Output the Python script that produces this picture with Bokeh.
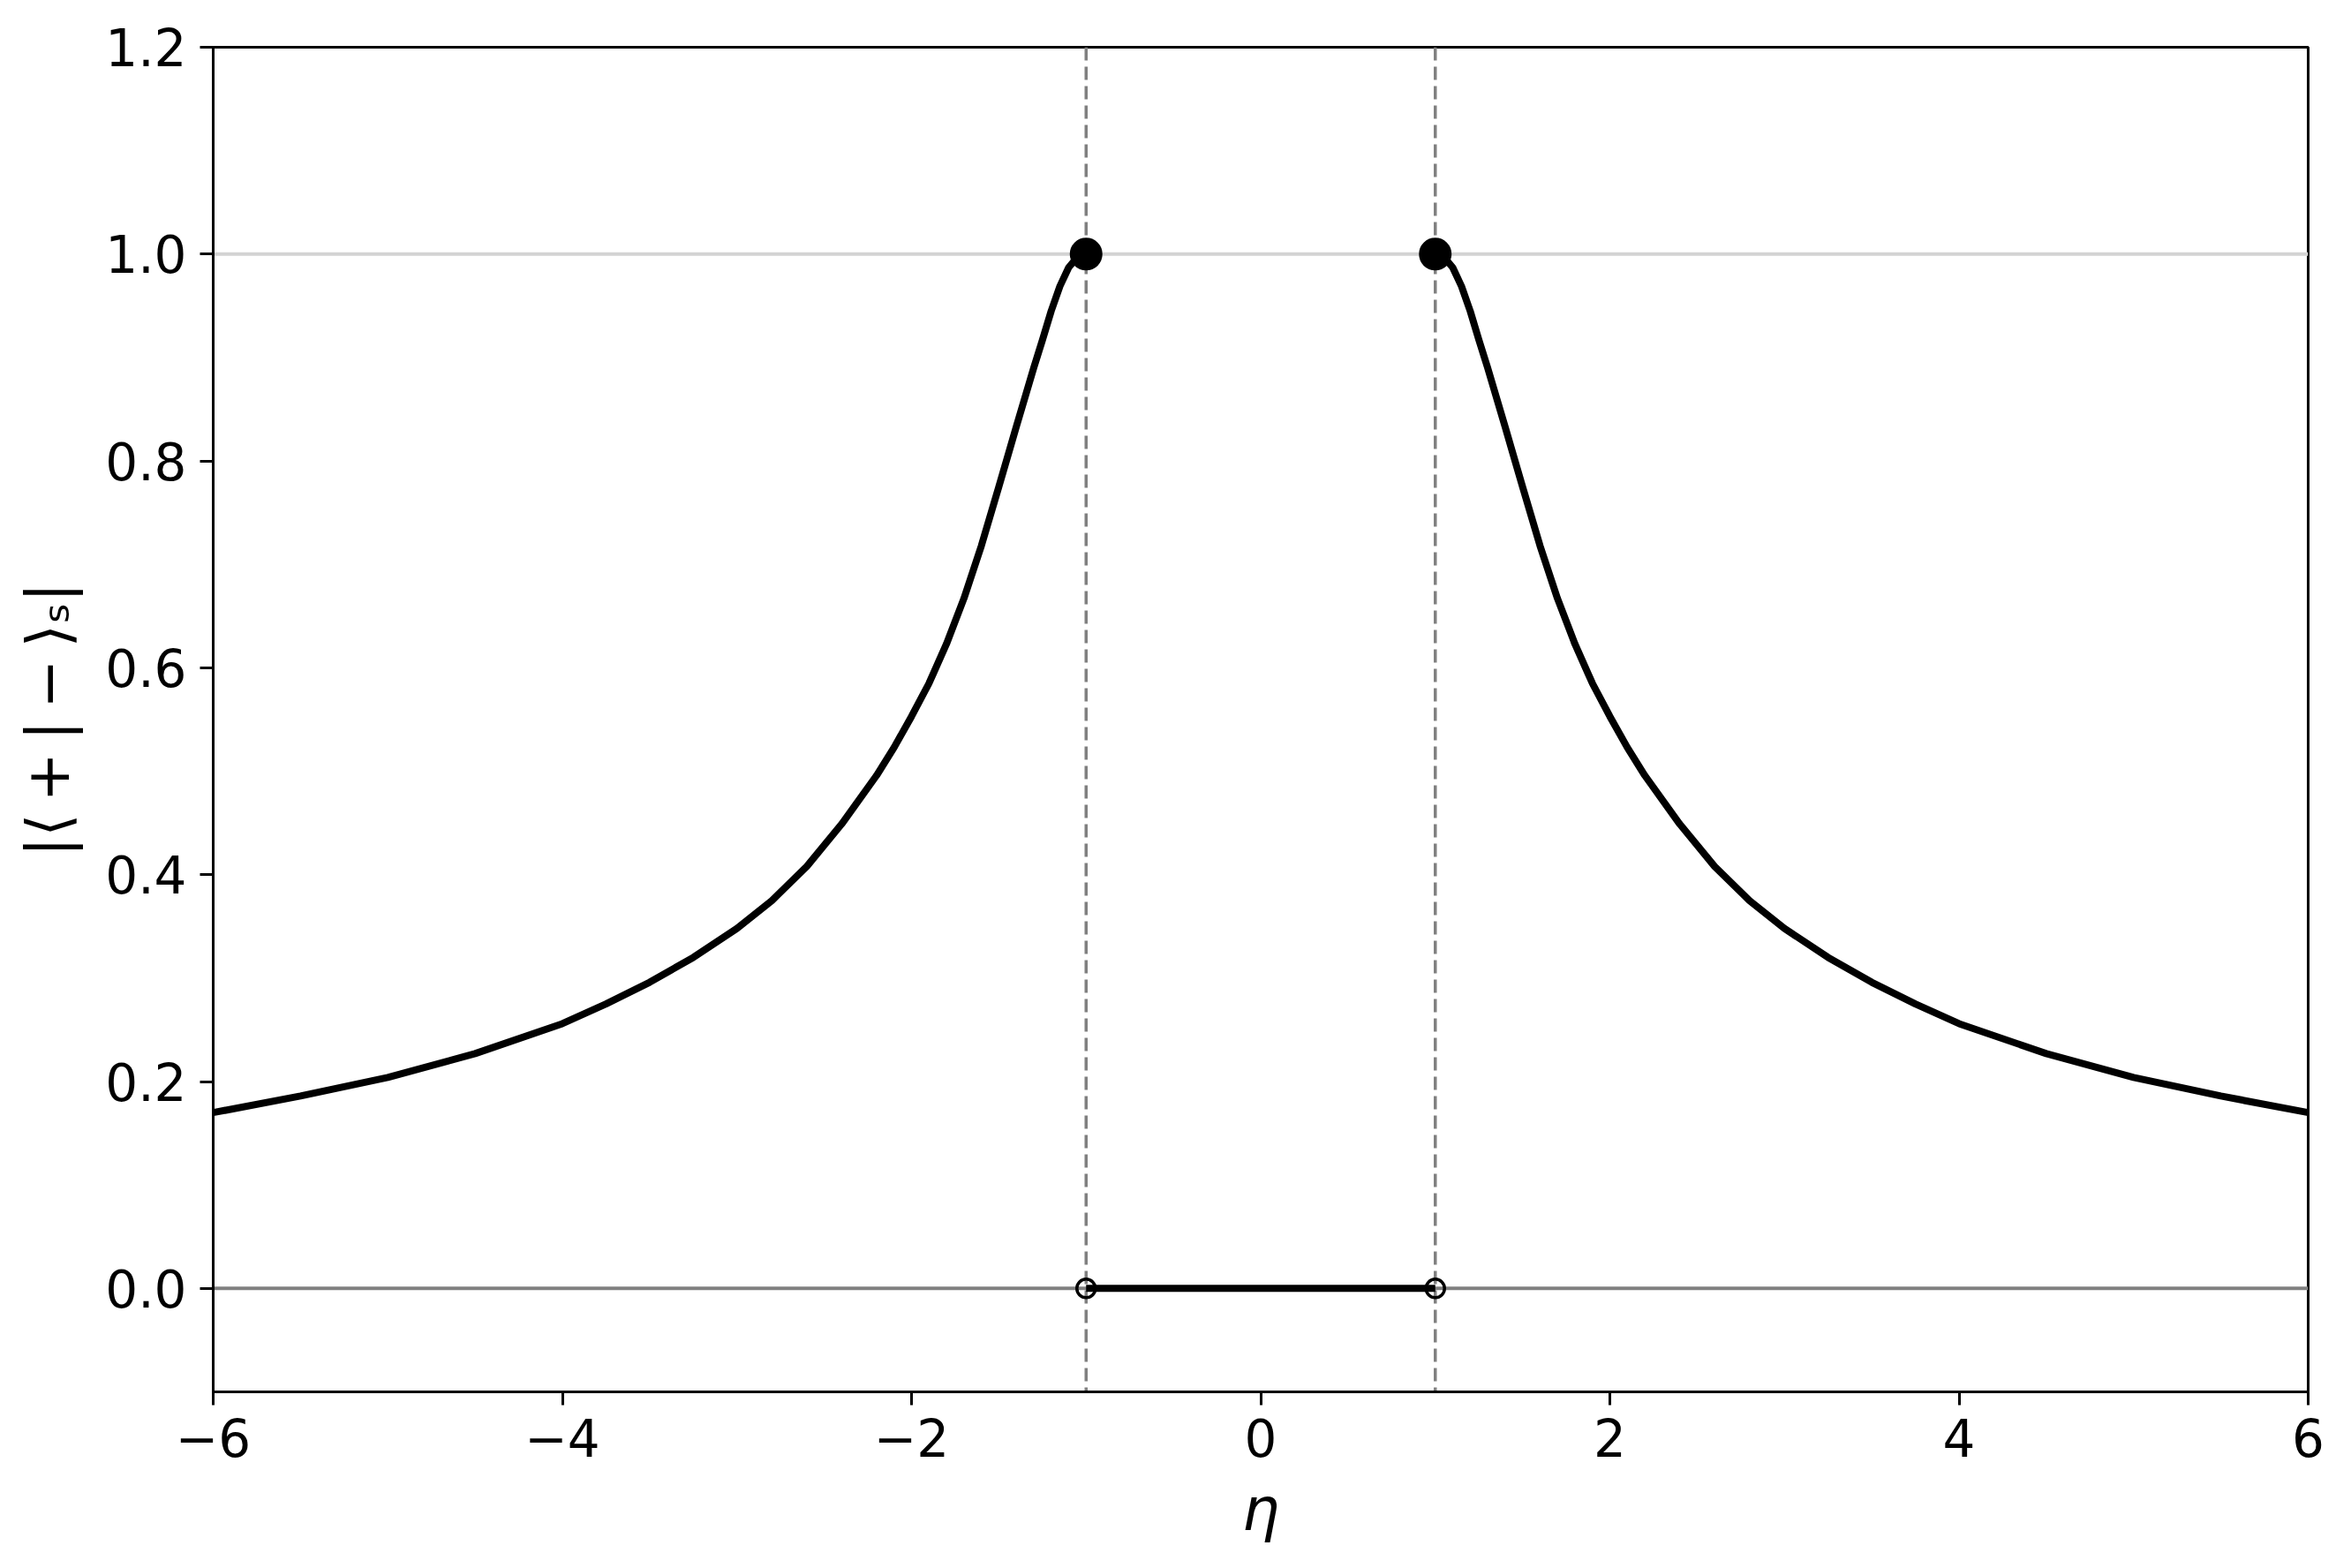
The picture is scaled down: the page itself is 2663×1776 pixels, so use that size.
from bokeh.plotting import figure
from bokeh.models import Range1d, FixedTicker, Span
from bokeh.embed import file_html
from bokeh.resources import INLINE

# ---- data ----
eta_right = [1.00, 1.03, 1.06, 1.10, 1.15, 1.20, 1.25, 1.30, 1.40, 1.50, 1.60, 1.70,
             1.80, 1.90, 2.00, 2.10, 2.20, 2.40, 2.60, 2.80, 3.00, 3.25, 3.50, 3.75,
             4.00, 4.50, 5.00, 5.50, 6.00]
val_right = [1.000, 0.999, 0.995, 0.987, 0.969, 0.945, 0.917, 0.890, 0.833, 0.775, 0.718, 0.667,
             0.623, 0.585, 0.553, 0.523, 0.496, 0.449, 0.408, 0.375, 0.348, 0.320, 0.296, 0.275,
             0.256, 0.227, 0.204, 0.186, 0.170]
eta_left = [-6.00, -5.50, -5.00, -4.50, -4.00, -3.75, -3.50, -3.25, -3.00, -2.80, -2.60, -2.40,
            -2.20, -2.10, -2.00, -1.90, -1.80, -1.70, -1.60, -1.50, -1.40, -1.30, -1.25, -1.20,
            -1.15, -1.10, -1.06, -1.03, -1.00]
val_left = [0.170, 0.186, 0.204, 0.227, 0.256, 0.275, 0.296, 0.320, 0.348, 0.375, 0.408, 0.449,
            0.496, 0.523, 0.553, 0.585, 0.623, 0.667, 0.718, 0.775, 0.833, 0.890, 0.917, 0.945,
            0.969, 0.987, 0.995, 0.999, 1.000]
gap_eta = [-1.0, 1.0]
gap_val = [0.0, 0.0]
peak_eta = [-1.0, 1.0]
peak_val = [1.0, 1.0]
ep_eta = [-1.0, 1.0]
ep_val = [0.0, 0.0]

x_ticks = [-6, -4, -2, 0, 2, 4, 6]
x_tick_labels = ["\u22126", "\u22124", "\u22122", "0", "2", "4", "6"]
y_ticks = [0.0, 0.2, 0.4, 0.6, 0.8, 1.0, 1.2]
y_tick_labels = ["0.0", "0.2", "0.4", "0.6", "0.8", "1.0", "1.2"]
x_label = "\u03b7"
y_label = "|\u27e8\u2009+\u2009|\u2009\u2212\u2009\u27e9\u209b|"

# ---- figure ----
p = figure(width=2647, height=1760, output_backend="svg", toolbar_location=None,
           x_range=Range1d(-6, 6), y_range=Range1d(-0.1, 1.2),
           min_border_left=241, min_border_right=33, min_border_top=53, min_border_bottom=184)
p.background_fill_color = "white"
p.border_fill_color = "white"
p.outline_line_color = "black"
p.outline_line_width = 3
p.xgrid.visible = False
p.ygrid.visible = False

for ax in (p.xaxis[0], p.yaxis[0]):
    ax.axis_line_color = "black"
    ax.axis_line_width = 3
    ax.major_tick_line_color = "black"
    ax.major_tick_line_width = 3
    ax.major_tick_out = 15
    ax.major_tick_in = 0
    ax.minor_tick_out = 0
    ax.minor_tick_in = 0
    ax.major_label_text_font = "DejaVu Sans"
    ax.major_label_text_font_size = "58px"
    ax.major_label_text_color = "black"
    ax.major_label_standoff = 15
    ax.axis_label_text_font = "DejaVu Sans"
    ax.axis_label_text_font_size = "67px"
    ax.axis_label_text_color = "black"

p.xaxis.ticker = FixedTicker(ticks=x_ticks)
p.xaxis.major_label_overrides = {t: l for t, l in zip(x_ticks, x_tick_labels)}
p.yaxis.ticker = FixedTicker(ticks=y_ticks)
p.yaxis.major_label_overrides = {t: l for t, l in zip(y_ticks, y_tick_labels)}
p.xaxis.axis_label = x_label
p.xaxis.axis_label_text_font_style = "italic"
p.xaxis.axis_label_standoff = 18
p.yaxis.axis_label = y_label
p.yaxis.axis_label_text_font_style = "normal"
p.yaxis.axis_label_standoff = 22

# reference lines (below the data)
p.add_layout(Span(location=1.0, dimension="width", line_color="#d3d3d3",
                  line_width=4, level="underlay"))
p.add_layout(Span(location=0.0, dimension="width", line_color="#808080",
                  line_width=4, level="underlay"))
for xv in peak_eta:
    p.add_layout(Span(location=xv, dimension="height", line_color="#808080",
                      line_width=3.5, line_dash="15 7", level="underlay"))

# curves
p.line(eta_left, val_left, line_color="black", line_width=8, line_join="round")
p.line(eta_right, val_right, line_color="black", line_width=8, line_join="round")
p.line(gap_eta, gap_val, line_color="black", line_width=8, line_cap="butt")

# markers
p.scatter(peak_eta, peak_val, marker="circle", size=33, fill_color="black",
          line_color="black", line_width=4)
p.scatter(ep_eta, ep_val, marker="circle", size=21, fill_alpha=0,
          line_color="black", line_width=3.5)

open("out.html", "w").write(file_html(p, INLINE))
